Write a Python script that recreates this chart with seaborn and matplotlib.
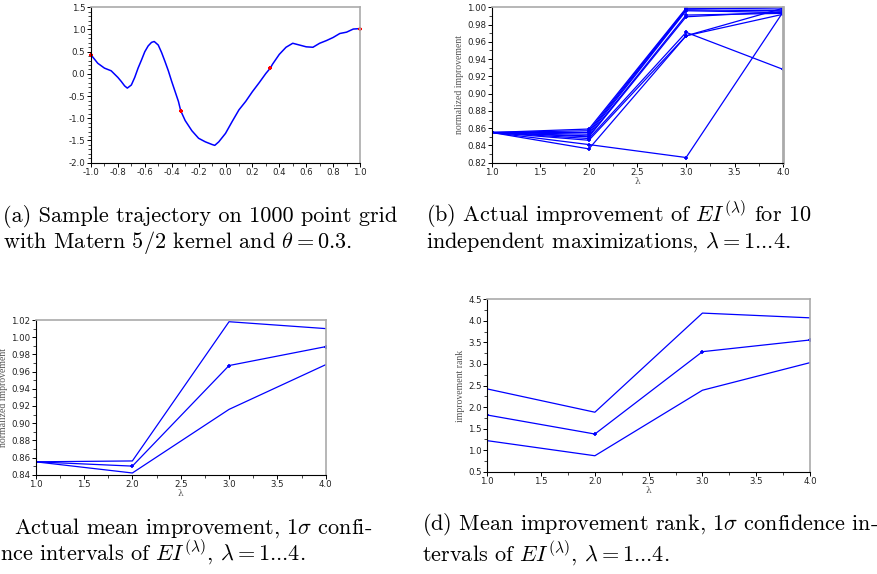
import numpy as np
import pandas as pd
import matplotlib
matplotlib.use("Agg")
import matplotlib.pyplot as plt
from matplotlib.ticker import MultipleLocator, AutoMinorLocator, FormatStrFormatter
import seaborn as sns

# (a) sample trajectory
traj_x = [-1.0, -0.95, -0.9, -0.85, -0.8, -0.775, -0.75, -0.73, -0.7, -0.675, -0.65, -0.625,
          -0.6, -0.575, -0.55, -0.53, -0.5, -0.475, -0.45, -0.425, -0.4, -0.35, -0.333, -0.3,
          -0.25, -0.2, -0.15, -0.1, -0.08, -0.05, 0.0, 0.05, 0.1, 0.15, 0.2, 0.25, 0.3, 0.333,
          0.35, 0.4, 0.45, 0.5, 0.55, 0.6, 0.65, 0.7, 0.75, 0.8, 0.85, 0.9, 0.95, 1.0]
traj_y = [0.43, 0.24, 0.13, 0.07, -0.08, -0.17, -0.27, -0.32, -0.25, -0.08, 0.13, 0.31,
          0.50, 0.63, 0.71, 0.73, 0.65, 0.48, 0.28, 0.07, -0.17, -0.62, -0.83, -1.05,
          -1.28, -1.45, -1.53, -1.59, -1.61, -1.53, -1.34, -1.07, -0.81, -0.62, -0.40, -0.20, 0.01, 0.13,
          0.22, 0.44, 0.60, 0.69, 0.65, 0.61, 0.60, 0.69, 0.75, 0.82, 0.91, 0.94, 1.01, 1.02]
sample_x = [-1.0, -0.333, 0.333, 1.0]
sample_y = [0.43, -0.83, 0.13, 1.02]

# (b) ten independent maximizations
lam = [1, 2, 3, 4]
runs = [
    [0.855, 0.859, 0.999, 0.998],
    [0.855, 0.857, 0.998, 1.000],
    [0.855, 0.855, 0.997, 0.996],
    [0.855, 0.853, 0.996, 0.994],
    [0.855, 0.851, 0.991, 0.993],
    [0.855, 0.850, 0.989, 0.995],
    [0.855, 0.848, 0.971, 0.928],
    [0.855, 0.846, 0.967, 0.992],
    [0.855, 0.836, 0.967, 0.999],
    [0.855, 0.841, 0.826, 0.995],
]

# (c) mean improvement with 1 sigma band
imp_mean = [0.855, 0.850, 0.967, 0.989]
imp_up = [0.855, 0.856, 1.018, 1.010]
imp_low = [0.855, 0.842, 0.916, 0.968]

# (d) mean improvement rank with 1 sigma band
rank_mean = [1.815, 1.374, 3.285, 3.556]
rank_up = [2.42, 1.88, 4.18, 4.07]
rank_low = [1.22, 0.87, 2.39, 3.03]

sns.set_style("ticks")
plt.rcParams["mathtext.fontset"] = "cm"

W, H = 878, 574
fig = plt.figure(figsize=(W / 100, H / 100), dpi=100)


def make_ax(l, r, t, b):
    return fig.add_axes([l / W, 1 - b / H, (r - l) / W, (b - t) / H])


def style_ax(ax, ylabel=None, xlabel=None):
    for s in ["left", "bottom"]:
        ax.spines[s].set_color("black")
        ax.spines[s].set_linewidth(0.8)
    for s in ["top", "right"]:
        ax.spines[s].set_color("#aaaaaa")
        ax.spines[s].set_linewidth(1.2)
    ax.tick_params(which="major", direction="out", length=3, width=0.7,
                   labelsize=6.2, pad=1, colors="black", labelcolor="#222222")
    ax.tick_params(which="minor", direction="out", length=2, width=0.6)
    ax.set_facecolor("white")
    ax.grid(False)
    if ylabel:
        ax.set_ylabel(ylabel, family="Liberation Serif", fontsize=7, color="#555555", labelpad=2)
    else:
        ax.set_ylabel("")
    if xlabel:
        ax.set_xlabel(xlabel, family="DejaVu Serif", fontsize=6.5, color="#555555", labelpad=0)
    else:
        ax.set_xlabel("")


mk = dict(marker="+", ms=3.5, mew=1.2, mec="blue")

# (a)
ax = make_ax(91, 360, 7.3, 162.7)
sns.lineplot(x=traj_x, y=traj_y, color="blue", lw=1.1, ax=ax, sort=False)
ax.plot(sample_x, sample_y, ls="none", marker="+", color="red", ms=3.5, mew=1.5, clip_on=False)
ax.set_xlim(-1, 1)
ax.set_ylim(-2, 1.5)
ax.xaxis.set_major_locator(MultipleLocator(0.2))
ax.yaxis.set_major_locator(MultipleLocator(0.5))
ax.xaxis.set_minor_locator(AutoMinorLocator(2))
ax.yaxis.set_minor_locator(AutoMinorLocator(5))
ax.xaxis.set_major_formatter(FormatStrFormatter("%.1f"))
ax.yaxis.set_major_formatter(FormatStrFormatter("%.1f"))
style_ax(ax)

# (b)
df_runs = pd.DataFrame([(i, lam[j], v) for i, r in enumerate(runs) for j, v in enumerate(r)],
                       columns=["run", "lam", "val"])
ax = make_ax(491.7, 783.3, 7.3, 162.7)
sns.lineplot(data=df_runs, x="lam", y="val", units="run", estimator=None, color="blue",
             lw=0.9, ax=ax, **mk)
ax.set_xlim(1, 4)
ax.set_ylim(0.82, 1.0)
ax.xaxis.set_major_locator(MultipleLocator(0.5))
ax.yaxis.set_major_locator(MultipleLocator(0.02))
ax.xaxis.set_minor_locator(AutoMinorLocator(2))
ax.yaxis.set_minor_locator(AutoMinorLocator(2))
ax.xaxis.set_major_formatter(FormatStrFormatter("%.1f"))
ax.yaxis.set_major_formatter(FormatStrFormatter("%.2f"))
style_ax(ax, "normalized improvement", "λ")
ax.spines["right"].set_linewidth(2)

# (c)
ax = make_ax(35.7, 325.7, 320, 474.7)
sns.lineplot(x=lam, y=imp_up, color="blue", lw=0.9, ax=ax)
sns.lineplot(x=lam, y=imp_mean, color="blue", lw=0.9, ax=ax, **mk)
sns.lineplot(x=lam, y=imp_low, color="blue", lw=0.9, ax=ax)
ax.set_xlim(1, 4)
ax.set_ylim(0.84, 1.02)
ax.xaxis.set_major_locator(MultipleLocator(0.5))
ax.yaxis.set_major_locator(MultipleLocator(0.02))
ax.xaxis.set_minor_locator(AutoMinorLocator(2))
ax.yaxis.set_minor_locator(AutoMinorLocator(2))
ax.xaxis.set_major_formatter(FormatStrFormatter("%.1f"))
ax.yaxis.set_major_formatter(FormatStrFormatter("%.2f"))
style_ax(ax, "normalized improvement", "λ")

# (d)
ax = make_ax(487.3, 810, 299.3, 471.7)
sns.lineplot(x=lam, y=rank_up, color="blue", lw=0.9, ax=ax)
sns.lineplot(x=lam, y=rank_mean, color="blue", lw=0.9, ax=ax, **mk)
sns.lineplot(x=lam, y=rank_low, color="blue", lw=0.9, ax=ax)
ax.set_xlim(1, 4)
ax.set_ylim(0.5, 4.5)
ax.xaxis.set_major_locator(MultipleLocator(0.5))
ax.yaxis.set_major_locator(MultipleLocator(0.5))
ax.xaxis.set_minor_locator(AutoMinorLocator(2))
ax.yaxis.set_minor_locator(AutoMinorLocator(2))
ax.xaxis.set_major_formatter(FormatStrFormatter("%.1f"))
ax.yaxis.set_major_formatter(FormatStrFormatter("%.1f"))
style_ax(ax, "improvement rank", "λ")

# captions (multi-line texts are anchored on the baseline of their last line)
cap = dict(family="cmr10", fontsize=16, color="black", va="baseline", ha="left",
           multialignment="left", linespacing=1.05)


def caption(x, y, s, **kw):
    opts = dict(cap, **kw)
    fig.text(x / W, 1 - y / H, s, **opts)


caption(3, 248, "(a) Sample trajectory on 1000 point grid\n"
                "with Matern 5/2 kernel and $\\theta = 0.3$.")
caption(426, 248, "(b) Actual improvement of $EI^{(\\lambda)}$ for 10\n"
                  "independent maximizations, $\\lambda = 1$...4.")
caption(14, 534, "Actual mean improvement, 1$\\sigma$ confi-")
caption(0, 561, "nce intervals of $EI^{(\\lambda)}$, $\\lambda = 1$...4.")
caption(422, 562, "(d) Mean improvement rank, 1$\\sigma$ confidence in-\n"
                  "tervals of $EI^{(\\lambda)}$, $\\lambda = 1$...4.", linespacing=1.1)

fig.savefig("out.png", dpi=100)
